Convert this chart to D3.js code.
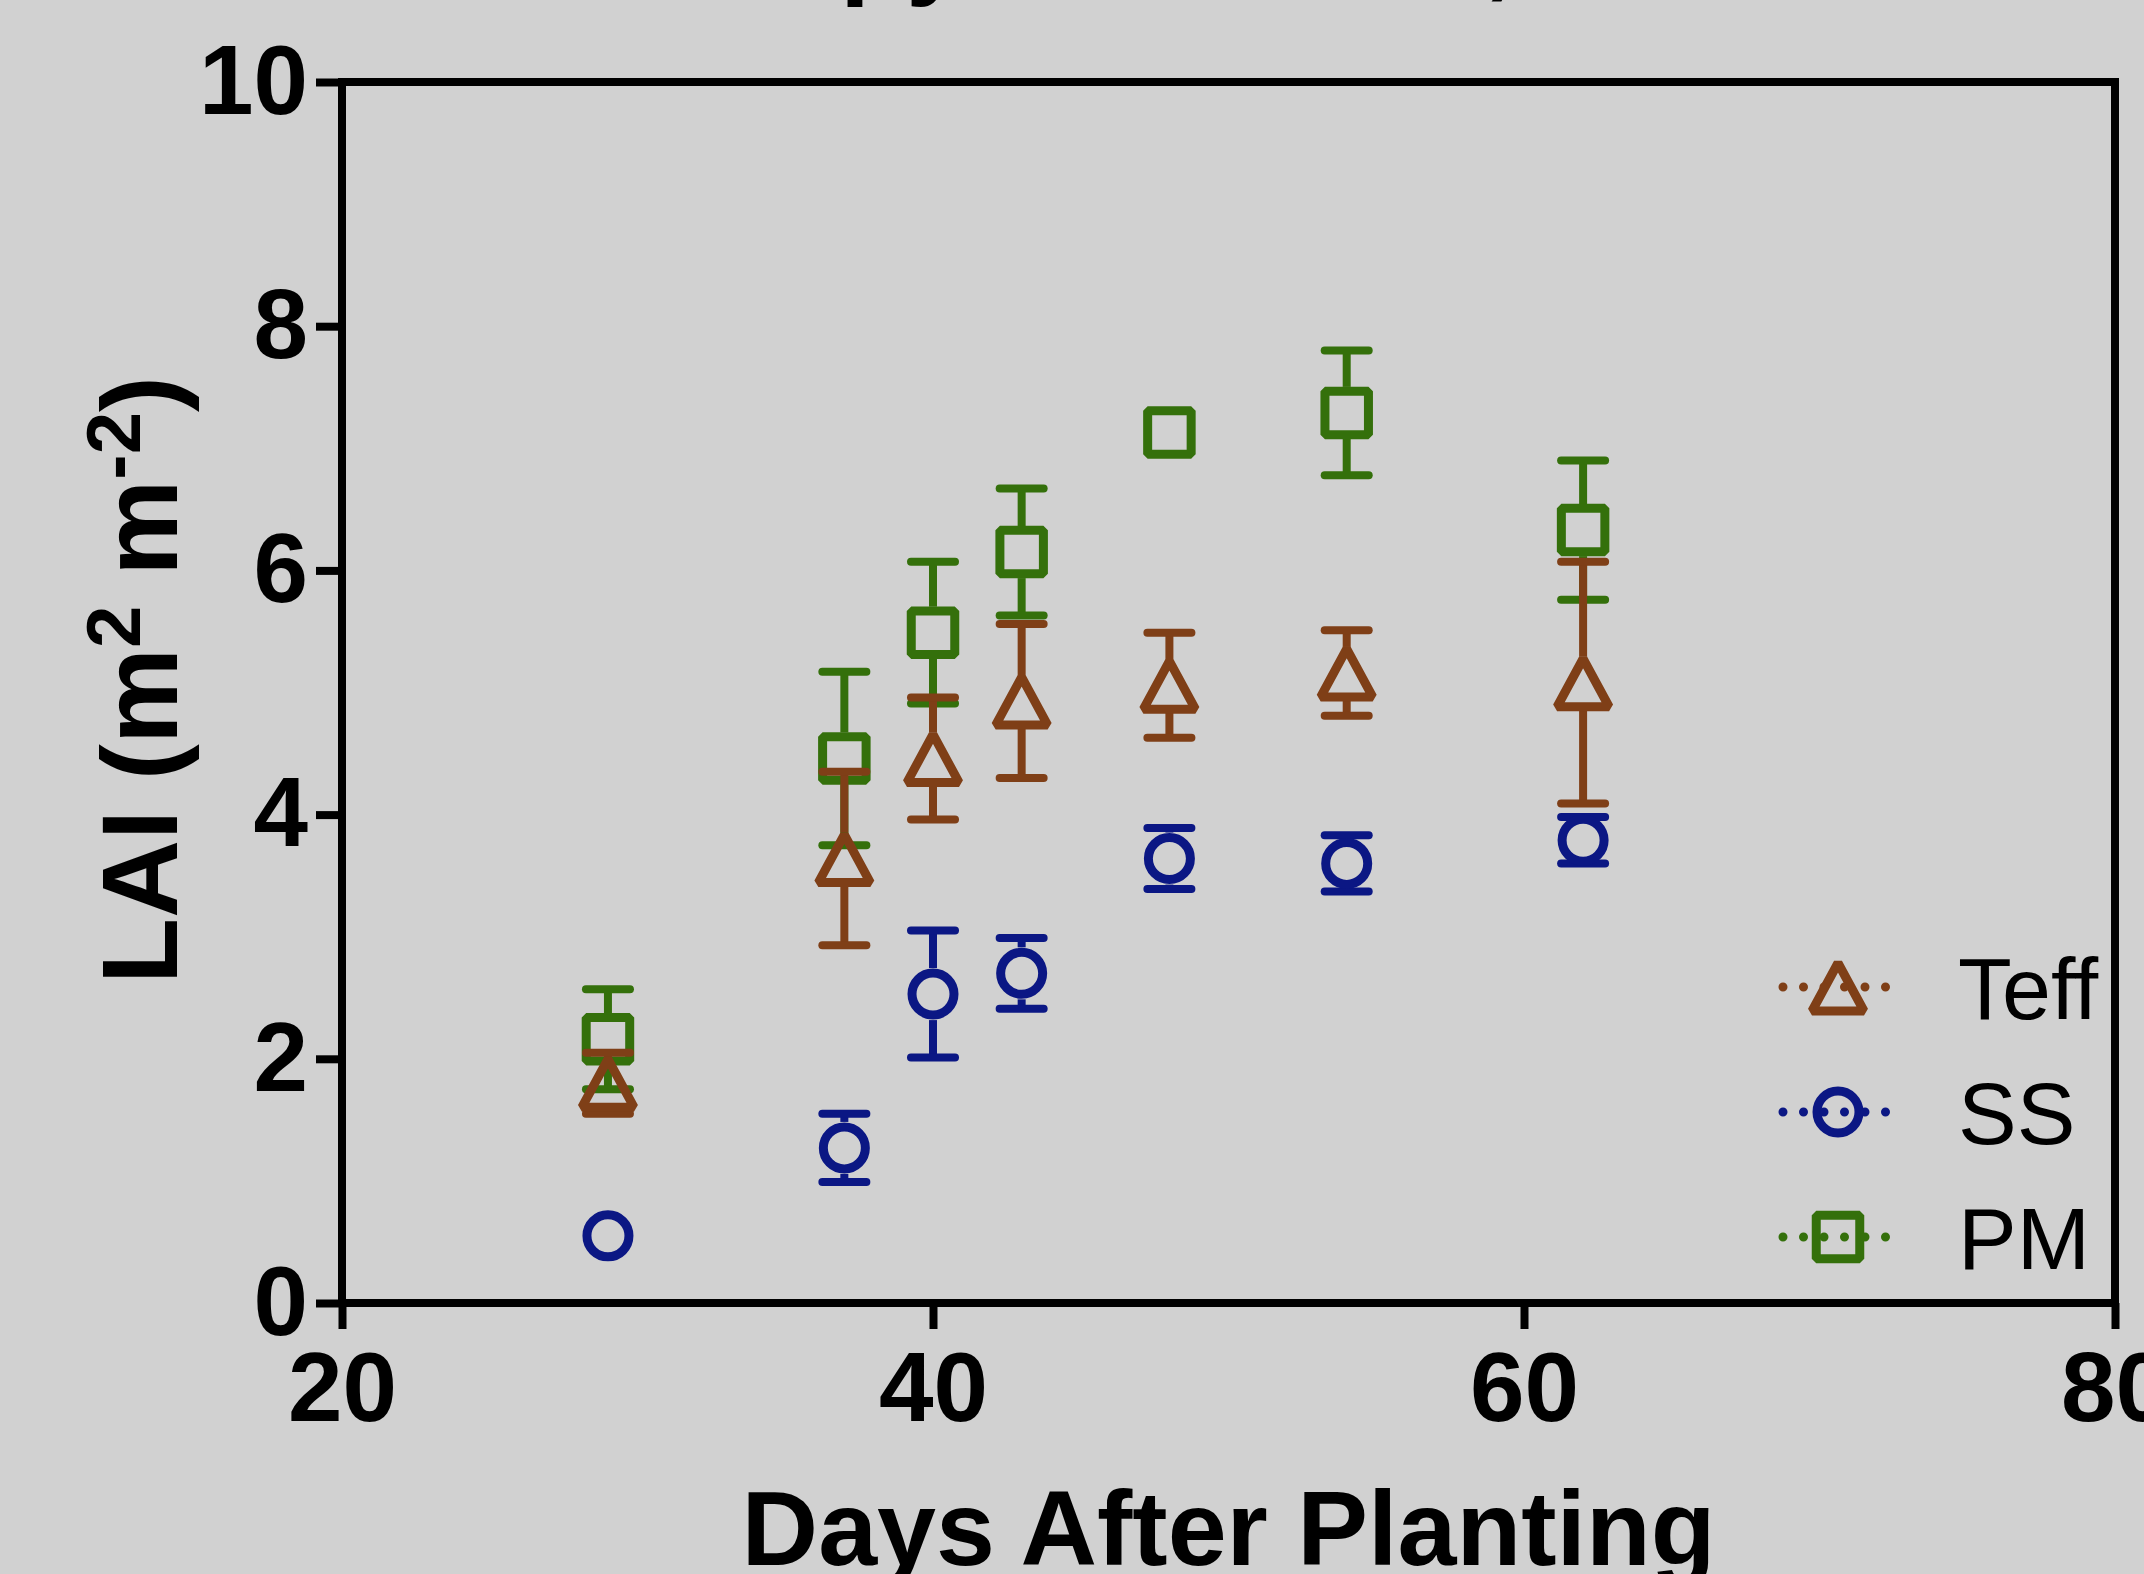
<!DOCTYPE html>
<html>
<head>
<meta charset="utf-8">
<script src="https://cdn.jsdelivr.net/npm/d3@7"></script>
<style>
  body { margin: 0; background: #d1d1d1; }
  svg { display: block; font-family: "Liberation Sans", Arial, Helvetica, sans-serif; }
</style>
</head>
<body>
<div id="chart"></div>
<script>
// days after planting
const days = [29, 37, 40, 43, 48, 54, 62];

// LAI means and error
const teff    = [1.80, 3.64, 4.46, 4.93, 5.06, 5.16, 5.08];
const teffErr = [0.25, 0.71, 0.50, 0.63, 0.43, 0.35, 0.99];
const ss      = [0.55, 1.27, 2.53, 2.70, 3.64, 3.60, 3.79];
const ssErr   = [0.00, 0.28, 0.52, 0.29, 0.25, 0.23, 0.19];
const pm      = [2.16, 4.46, 5.49, 6.15, 7.13, 7.29, 6.33];
const pmErr   = [0.41, 0.71, 0.58, 0.52, 0.00, 0.51, 0.57];

const xTicks = [20, 40, 60, 80];
const yTicks = [0, 2, 4, 6, 8, 10];

const seriesNames = ['Teff', 'SS', 'PM'];

class LaiChart {

    constructor(opts) {
        this.element = opts.element;
        this.series = opts.series;     // drawing order
        this.legend = opts.legend;     // legend order, top to bottom
        this.draw();
    }

    draw() {
        this.width = 2144;
        this.height = 1574;
        this.margin = { top: 82, right: 29, bottom: 271, left: 342 };

        this.element.innerHTML = '';
        const svg = d3.select(this.element).append('svg')
            .attr('width', this.width)
            .attr('height', this.height);
        this.svg = svg;

        svg.append('rect')
            .attr('width', this.width)
            .attr('height', this.height)
            .attr('fill', '#d1d1d1');

        // title, mostly cut off at the top edge
        svg.append('text')
            .attr('x', 570)
            .attr('y', -15)
            .attr('font-size', 108)
            .attr('font-weight', 'bold')
            .text('Canopy Leaf Area, 2017');

        this.plot = svg.append('g')
            .attr('transform', `translate(${this.margin.left},${this.margin.top})`);

        this.createScales();
        this.addAxes();
        this.addPoints();
        this.addLegend();
    }

    createScales() {
        const m = this.margin;
        this.w = this.width - m.left - m.right;
        this.h = this.height - m.top - m.bottom;

        this.xScale = d3.scaleLinear().domain([20, 80]).range([0, this.w]);
        this.yScale = d3.scaleLinear().domain([0, 10]).range([this.h, 0]);
    }

    addAxes() {
        const xAxis = d3.axisBottom(this.xScale)
            .tickValues(xTicks)
            .tickSize(26)
            .tickPadding(22)
            .tickFormat(d3.format('d'));

        const yAxis = d3.axisLeft(this.yScale)
            .tickValues(yTicks)
            .tickSize(26)
            .tickPadding(8)
            .tickFormat(d3.format('d'));

        const gx = this.plot.append('g')
            .attr('transform', `translate(0,${this.h})`)
            .call(xAxis);
        const gy = this.plot.append('g').call(yAxis);

        [gx, gy].forEach(g => {
            g.select('.domain').remove();
            g.selectAll('.tick line').attr('stroke', '#000').attr('stroke-width', 8);
            g.selectAll('.tick text')
                .attr('fill', '#000')
                .attr('font-size', 98)
                .attr('font-weight', 'bold')
                .attr('font-family', '"Liberation Sans", Arial, sans-serif');
        });

        // frame round the plot
        this.plot.append('rect')
            .attr('width', this.w)
            .attr('height', this.h)
            .attr('fill', 'none')
            .attr('stroke', '#000')
            .attr('stroke-width', 8);

        // axis titles
        this.svg.append('text')
            .attr('x', this.margin.left + this.w / 2)
            .attr('y', 1565)
            .attr('text-anchor', 'middle')
            .attr('font-size', 106)
            .attr('font-weight', 'bold')
            .text('Days After Planting');

        const yl = this.svg.append('text')
            .attr('transform', 'translate(177,680) rotate(-90)')
            .attr('text-anchor', 'middle')
            .attr('font-size', 108)
            .attr('font-weight', 'bold');
        yl.append('tspan').text('LAI (m');
        yl.append('tspan').attr('font-size', 76).attr('dy', -37).text('2');
        yl.append('tspan').attr('dy', 37).text(' m');
        yl.append('tspan').attr('font-size', 76).attr('dy', -37).text('-2');
        yl.append('tspan').attr('dy', 37).text(')');
    }

    symbolPath(shape) {
        if (shape === 'triangle') return 'M0,-24L26,24L-26,24Z';
        if (shape === 'square') return 'M-21.75,-21.75H21.75V21.75H-21.75Z';
        return 'M21,0A21,21 0 1,1 -21,0A21,21 0 1,1 21,0Z';
    }

    addPoints() {
        const half = 26;   // outer half height of a marker
        const capW = 22;

        this.series.forEach(s => {
            const g = this.plot.append('g').attr('class', 'series-' + s.name);
            const pts = days.map((d, i) => ({ x: d, y: s.values[i], e: s.errors[i] }));

            // error bars, drawn from the marker edge outwards
            pts.forEach(p => {
                const cx = this.xScale(p.x);
                const cy = this.yScale(p.y);
                const ep = this.yScale(p.y - p.e) - cy;
                if (ep < 18) return;
                [-1, 1].forEach(dir => {
                    const cap = cy + dir * ep;
                    if (ep > half) {
                        g.append('line')
                            .attr('x1', cx).attr('x2', cx)
                            .attr('y1', cy + dir * half).attr('y2', cap)
                            .attr('stroke', s.color).attr('stroke-width', 8);
                    }
                    g.append('line')
                        .attr('x1', cx - capW).attr('x2', cx + capW)
                        .attr('y1', cap).attr('y2', cap)
                        .attr('stroke', s.color).attr('stroke-width', 8)
                        .attr('stroke-linecap', 'round');
                });
            });

            g.selectAll('path.marker')
                .data(pts)
                .enter().append('path')
                .attr('class', 'marker')
                .attr('d', this.symbolPath(s.shape))
                .attr('transform', d => `translate(${this.xScale(d.x)},${this.yScale(d.y)})`)
                .attr('fill', 'none')
                .attr('stroke', s.color)
                .attr('stroke-width', 9)
                .attr('stroke-linejoin', 'bevel');
        });
    }

    addLegend() {
        const rows = this.legend.map((s, i) => ({ s: s, y: 987 + i * 125 }));
        const lg = this.svg.append('g').attr('class', 'legend');

        rows.forEach(r => {
            lg.append('path')
                .attr('d', this.symbolPath(r.s.shape))
                .attr('transform', `translate(1838,${r.y})`)
                .attr('fill', 'none')
                .attr('stroke', r.s.color)
                .attr('stroke-width', 9)
                .attr('stroke-linejoin', 'bevel');

            lg.append('line')
                .attr('x1', 1783).attr('x2', 1886)
                .attr('y1', r.y).attr('y2', r.y)
                .attr('stroke', r.s.color)
                .attr('stroke-width', 9)
                .attr('stroke-linecap', 'round')
                .attr('stroke-dasharray', '0 20.5');

            lg.append('text')
                .attr('x', 1958)
                .attr('y', r.y + 32)
                .attr('font-size', 88)
                .text(r.s.name);
        });
    }
}

const teffSeries = { name: seriesNames[0], values: teff, errors: teffErr, shape: 'triangle', color: '#7f3f17' };
const ssSeries   = { name: seriesNames[1], values: ss,   errors: ssErr,   shape: 'circle',   color: '#0b1784' };
const pmSeries   = { name: seriesNames[2], values: pm,   errors: pmErr,   shape: 'square',   color: '#34700b' };

new LaiChart({
    element: document.getElementById('chart'),
    series: [pmSeries, ssSeries, teffSeries],
    legend: [teffSeries, ssSeries, pmSeries]
});
</script>
</body>
</html>
